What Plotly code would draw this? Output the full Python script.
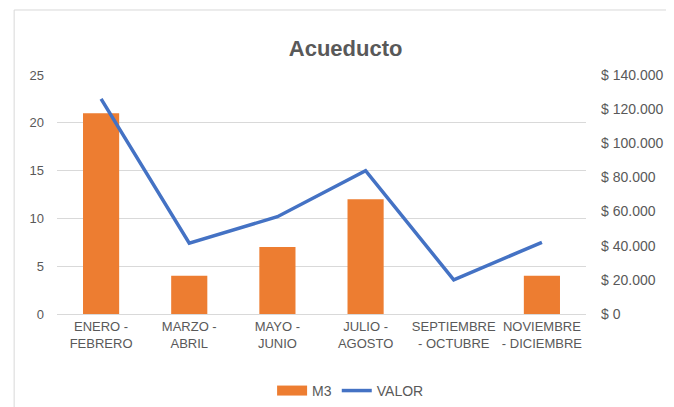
import plotly.graph_objects as go

categories = ["ENERO -<br>FEBRERO", "MARZO -<br>ABRIL", "MAYO -<br>JUNIO",
              "JULIO -<br>AGOSTO", "SEPTIEMBRE<br>- OCTUBRE", "NOVIEMBRE<br>- DICIEMBRE"]
m3_values = [21, 4, 7, 12, 0, 4]
valor_values = [126000, 41500, 57000, 84000, 20000, 42000]
left_ticks = [0, 5, 10, 15, 20, 25]
right_ticks = [0, 20000, 40000, 60000, 80000, 100000, 120000, 140000]
right_tick_labels = ["$ 0", "$ 20.000", "$ 40.000", "$ 60.000", "$ 80.000",
                     "$ 100.000", "$ 120.000", "$ 140.000"]

txt = "#595959"
bar_color = "#ED7D31"
line_color = "#4472C4"
font_family = "Liberation Sans, Arial, sans-serif"

fig = go.Figure()
fig.add_trace(go.Bar(x=categories, y=m3_values, name="M3", showlegend=False,
                     marker=dict(color=bar_color, line=dict(width=0)), yaxis="y"))
# legend key drawn as a wide orange block, like the reference
fig.add_trace(go.Scatter(x=[None], y=[None], name="M3", mode="lines",
                         line=dict(color=bar_color, width=10), yaxis="y"))
fig.add_trace(go.Scatter(x=categories, y=valor_values, name="VALOR", mode="lines",
                         line=dict(color=line_color, width=3.5), yaxis="y2"))

fig.update_layout(
    width=666, height=399,
    margin=dict(l=49, r=88, t=67, b=93, autoexpand=False),
    paper_bgcolor="white", plot_bgcolor="white",
    font=dict(family=font_family, size=13, color=txt),
    title=dict(text="<b>Acueducto</b>", x=0.507, xanchor="center", y=0.9, yanchor="middle",
               font=dict(size=22, color=txt, family=font_family)),
    bargap=0.59,
    showlegend=True,
    legend=dict(orientation="h", x=0.555, xanchor="center", y=-0.322, yanchor="middle",
                font=dict(size=14, color=txt), itemwidth=30, tracegroupgap=0),
    xaxis=dict(showgrid=False, showline=True, linecolor="#D9D9D9", linewidth=1,
               ticks="", tickfont=dict(size=13, color=txt), automargin=False),
    yaxis=dict(range=[0, 25], tickvals=left_ticks, showgrid=True, gridcolor="#D9D9D9",
               gridwidth=1, zeroline=False, showline=False, ticks="", automargin=False,
               tickfont=dict(size=13, color=txt), ticklabelstandoff=12),
    yaxis2=dict(range=[0, 140000], overlaying="y", side="right", tickvals=right_ticks,
                ticktext=right_tick_labels, showgrid=False, zeroline=False, showline=False,
                ticks="", tickfont=dict(size=14, color=txt), ticklabelstandoff=14,
                automargin=False),
    shapes=[
        dict(type="line", xref="paper", yref="paper", x0=-0.081, x1=1.2, y0=1.272, y1=1.272,
             line=dict(color="#D9D9D9", width=1)),
        dict(type="line", xref="paper", yref="paper", x0=-0.081, x1=-0.081, y0=1.272, y1=-0.5,
             line=dict(color="#D9D9D9", width=1)),
    ],
)

fig.write_html("out.html")
